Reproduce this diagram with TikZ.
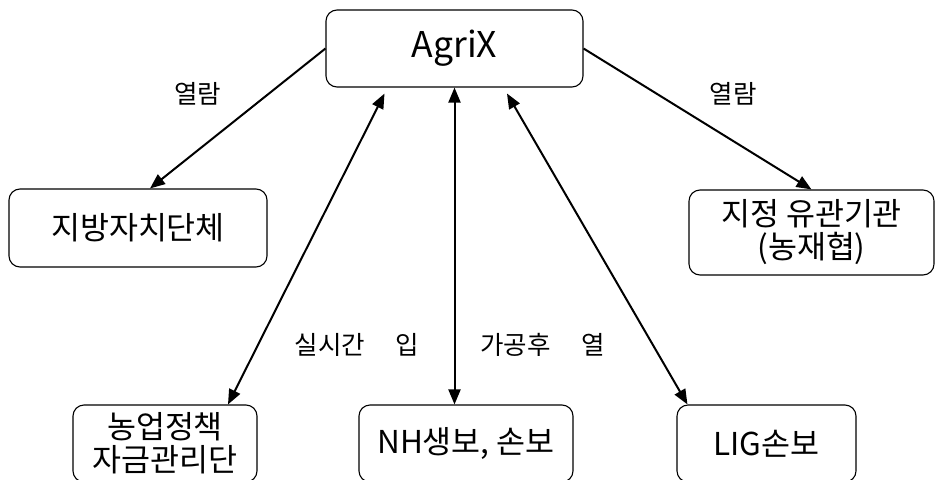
\documentclass[tikz,border=0pt]{standalone}
\usepackage{fontspec}
\setmainfont{Noto Sans CJK KR}
\usetikzlibrary{arrows.meta}

\begin{document}
\begin{tikzpicture}[x=1pt,y=-1pt]  % <-- pixel units, y downwards

\tikzset{
orgbox/.style={
draw=black,
line width=1.1pt,
rounded corners=11pt,
align=center,
inner sep=0pt,
font=\fontsize{31.5}{33}\selectfont
},
flowlabel/.style={
inner sep=0pt,
font=\fontsize{25.5}{28}\selectfont
},
flow/.style={
line width=2pt,
-{Triangle[length=15pt,width=12pt]}
},
twoway/.style={
line width=2pt,
{Triangle[length=15pt,width=12pt]}-{Triangle[length=15pt,width=12pt]}
}
}

\useasboundingbox (0,0) rectangle (936,479);

%----------------------------------
% TOP
%----------------------------------

\node[orgbox,minimum width=257pt,minimum height=77pt,
font=\fontsize{35.5}{38}\selectfont] (agrix) at (454.5,48.5) {AgriX};

%----------------------------------
% MIDDLE ROW
%----------------------------------

\node[orgbox,minimum width=258pt,minimum height=78pt] (local) at (138,228) {지방자치단체};
\node[orgbox,minimum width=245pt,minimum height=85pt] (inst) at (811.5,232.5) {지정 유관기관\\(농재협)};

%----------------------------------
% BOTTOM ROW
%----------------------------------

\node[orgbox,minimum width=184pt,minimum height=77pt] (fund) at (165,443.5) {농업정책\\자금관리단};
\node[orgbox,minimum width=214pt,minimum height=77pt] (nh) at (466,443.5) {NH생보, 손보};
\node[orgbox,minimum width=179pt,minimum height=77pt] (lig) at (766.5,443.5) {LIG손보};

%----------------------------------
% ARROWS
%----------------------------------

\draw[flow] (agrix.west) -- ([xshift=12pt]local.north);
\draw[flow] (agrix.east) -- (inst.north);

\draw[twoway] ([xshift=63pt]fund.north) -- ([xshift=-70pt,yshift=-6pt]agrix.south);
\draw[twoway] (nh.north -| agrix.south) -- (agrix.south);
\draw[twoway] ([xshift=11pt]lig.north west) -- ([xshift=52.5pt,yshift=-6pt]agrix.south);

%----------------------------------
% LABELS
%----------------------------------

\node[flowlabel] (viewleft) at (197.5,93.5) {열람};
\node[flowlabel] (viewright) at (733,93.5) {열람};
\node[flowlabel] (realtime) at (357,345) {실시간\hspace{31pt}입};
\node[flowlabel] (processed) at (542.5,345) {가공후\hspace{31pt}열};

\end{tikzpicture}
\end{document}
